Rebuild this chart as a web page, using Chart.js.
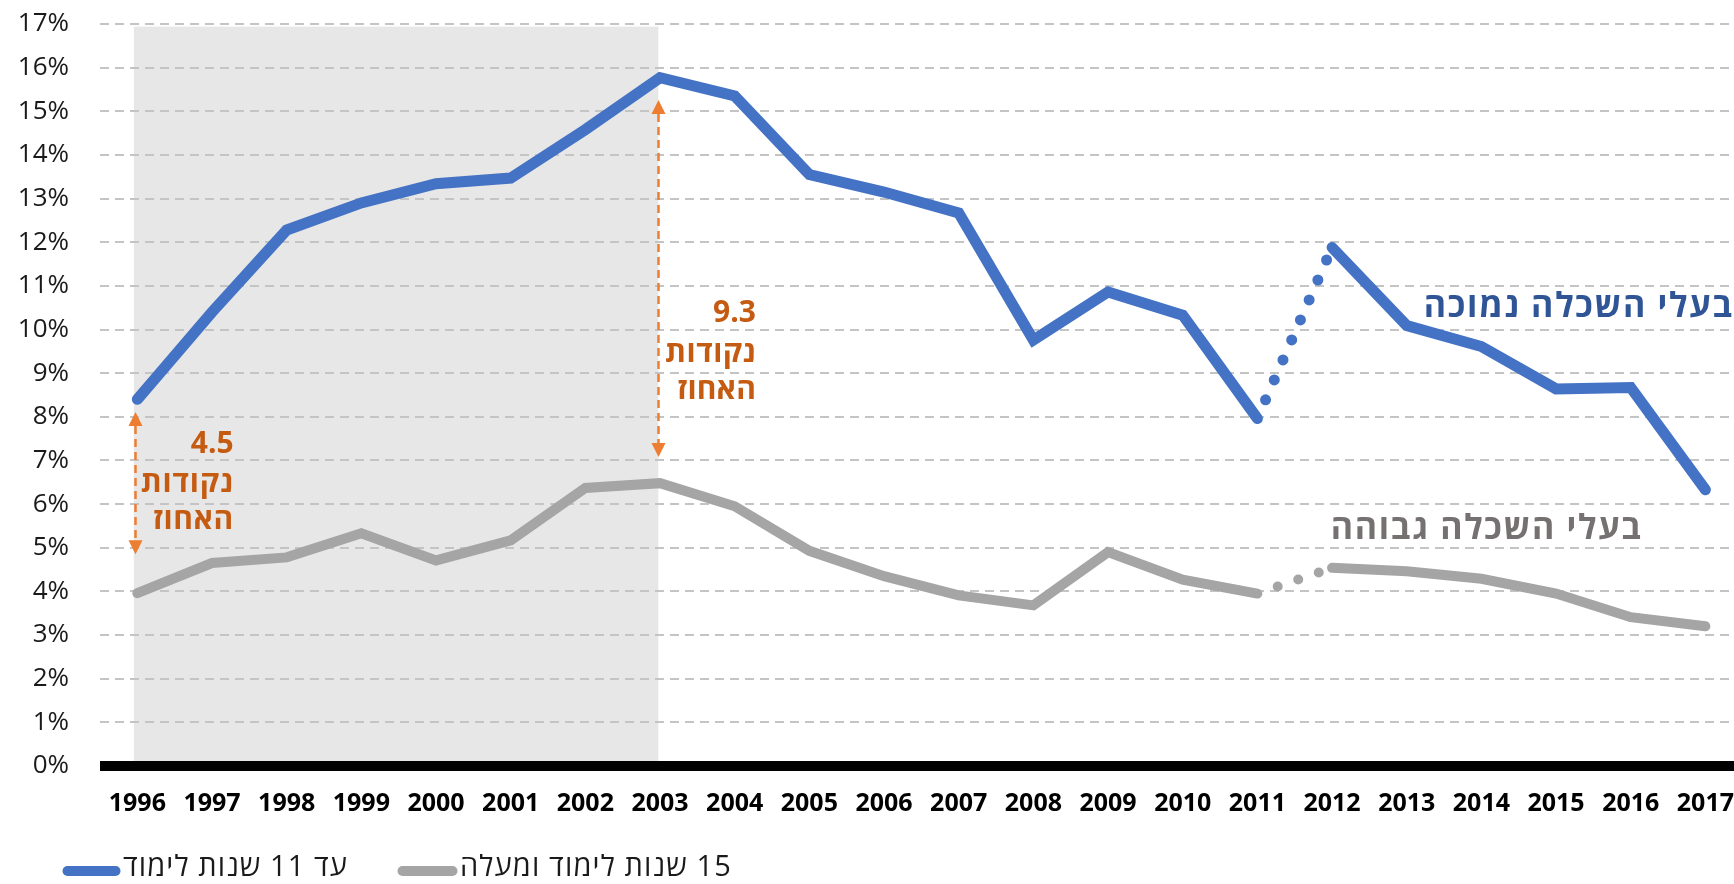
<!DOCTYPE html>
<html lang="he">
<head>
<meta charset="utf-8">
<script src="https://cdn.jsdelivr.net/npm/chart.js@4.4.1/dist/chart.umd.min.js"></script>
<style>html,body{margin:0;padding:0;background:#fff;overflow:hidden}canvas{display:block}</style>
</head>
<body>
<canvas id="c" width="1734" height="884"></canvas>
<script>
// ---- data ----
const years = [1996,1997,1998,1999,2000,2001,2002,2003,2004,2005,2006,2007,2008,2009,2010,2011,2012,2013,2014,2015,2016,2017];
const lowEducation  = [8.40,10.40,12.28,12.90,13.34,13.47,14.58,15.77,15.35,13.55,13.15,12.67,9.76,10.86,10.33,7.96,11.88,10.09,9.61,8.64,8.67,6.33];
const highEducation = [3.96,4.65,4.78,5.33,4.71,5.17,6.37,6.48,5.95,4.93,4.35,3.91,3.68,4.90,4.27,3.95,4.54,4.46,4.29,3.95,3.41,3.20];
const yTickValues = [0,1,2,3,4,5,6,7,8,9,10,11,12,13,14,15,16,17];
const legendNames = ['עד 11 שנות לימוד', '15 שנות לימוד ומעלה'];
const lineNames = ['בעלי השכלה נמוכה', 'בעלי השכלה גבוהה'];
const breakYear = 2011;           // dotted link 2011 -> 2012
const shadedYears = [1996, 2003];
const gapValues = ['4.5', '9.3'];
const gapYears = [1996, 2003];

// ---- annotation placement (layout only) ----
const FONT = "'Open Sans', 'DejaVu Sans', sans-serif";
const BLUE = '#4472C4', GRAY = '#A5A5A5', ORANGE = '#ED7D31', ORANGE_TXT = '#C55A11';
const gapNotes = [
  { xShift: -0.035, top: 8.11, bottom: 4.85, textX: 1997.29, textY: [7.36, 6.48, 5.63], widths: [0, 93, 81] },
  { xShift: -0.023, top: 15.26, bottom: 7.08, textX: 2004.285, textY: [10.37, 9.45, 8.60], widths: [0, 91, 79] }
];
const gapWords = ['נקודות', 'האחוז'];
const breakIdx = years.indexOf(breakYear);

function dotted(dash, offset) {
  return {
    borderDash: c => c.p0DataIndex === breakIdx ? dash : undefined,
    borderDashOffset: c => c.p0DataIndex === breakIdx ? offset : undefined
  };
}

function fitText(ctx, text, x, y, width) {
  ctx.letterSpacing = '0px';
  if (width) {
    const w = ctx.measureText(text).width;
    const ls = Math.max(0, (width - w) / text.length);
    ctx.letterSpacing = ls.toFixed(2) + 'px';
  }
  ctx.fillText(text, x, y);
  ctx.letterSpacing = '0px';
}

const decor = {
  id: 'decor',
  beforeDraw(chart) {
    const { ctx, scales: { x, y } } = chart;
    const x0 = x.getPixelForValue(shadedYears[0] - 0.047);
    const x1 = x.getPixelForValue(shadedYears[1] - 0.023);
    const yt = y.getPixelForValue(16.94), yb = y.getPixelForValue(0);
    ctx.save();
    ctx.fillStyle = '#E7E7E7';
    ctx.fillRect(x0, yt, x1 - x0, yb - yt + 1);
    ctx.restore();
  },
  beforeDatasetsDraw(chart) {
    const { ctx, chartArea: a, scales: { y } } = chart;
    const y0 = y.getPixelForValue(0);
    ctx.save();
    ctx.fillStyle = '#000';
    ctx.fillRect(a.left, y0 - 5, a.right - a.left, 10);
    ctx.restore();
  },
  afterDatasetsDraw(chart) {
    const { ctx, scales: { x, y } } = chart;
    ctx.save();
    gapNotes.forEach((g, i) => {
      const px = Math.round(x.getPixelForValue(gapYears[i] + g.xShift)) + 0.5;
      const yT = y.getPixelForValue(g.top), yB = y.getPixelForValue(g.bottom);
      const head = 14, half = 7;
      ctx.strokeStyle = ORANGE; ctx.lineWidth = 2.5; ctx.setLineDash([8, 5]);
      ctx.beginPath(); ctx.moveTo(px, yT + head); ctx.lineTo(px, yB - head); ctx.stroke();
      ctx.setLineDash([]);
      ctx.fillStyle = ORANGE;
      ctx.beginPath(); ctx.moveTo(px, yT); ctx.lineTo(px - half, yT + head); ctx.lineTo(px + half, yT + head); ctx.closePath(); ctx.fill();
      ctx.beginPath(); ctx.moveTo(px, yB); ctx.lineTo(px - half, yB - head); ctx.lineTo(px + half, yB - head); ctx.closePath(); ctx.fill();
      // text block
      const lines = [gapValues[i]].concat(gapWords);
      const rx = x.getPixelForValue(g.textX);
      ctx.fillStyle = ORANGE_TXT;
      ctx.font = "bold 30px " + FONT;
      ctx.textAlign = 'right'; ctx.textBaseline = 'middle'; ctx.direction = 'rtl';
      lines.forEach((t, k) => fitText(ctx, t, rx, y.getPixelForValue(g.textY[k]), g.widths[k]));
    });
    // series labels
    ctx.font = "bold 34px " + FONT;
    ctx.textAlign = 'right'; ctx.textBaseline = 'middle'; ctx.direction = 'rtl';
    ctx.fillStyle = '#2F5597';
    fitText(ctx, lineNames[0], x.getPixelForValue(2017.38), y.getPixelForValue(10.52), 310);
    ctx.fillStyle = '#767171';
    fitText(ctx, lineNames[1], x.getPixelForValue(2016.16), y.getPixelForValue(5.43), 312);
    ctx.restore();
  },
  afterDraw(chart) {
    const { ctx } = chart;
    const items = [
      { color: BLUE, x0: 67.5, x1: 115.5, tx: 123, w: 225, name: legendNames[0] },
      { color: GRAY, x0: 402.5, x1: 452.5, tx: 460, w: 272, name: legendNames[1] }
    ];
    const ly = 871;
    ctx.save();
    items.forEach(it => {
      ctx.strokeStyle = it.color; ctx.lineWidth = 10; ctx.lineCap = 'round';
      ctx.beginPath(); ctx.moveTo(it.x0, ly); ctx.lineTo(it.x1, ly); ctx.stroke();
      ctx.fillStyle = '#1a1a1a';
      ctx.font = "29px " + FONT;
      ctx.textAlign = 'left'; ctx.textBaseline = 'middle'; ctx.direction = 'rtl';
      fitText(ctx, it.name, it.tx, ly - 3, it.w);
    });
    ctx.restore();
  }
};

Chart.defaults.font.family = FONT;

new Chart(document.getElementById('c'), {
  type: 'line',
  data: {
    datasets: [
      {
        label: legendNames[0],
        data: years.map((yr, i) => ({ x: yr, y: lowEducation[i] })),
        borderColor: BLUE, borderWidth: 11, borderCapStyle: 'round',
        pointRadius: 0, pointHoverRadius: 0, tension: 0, fill: false,
        segment: dotted([0, 21.8], 1.4)
      },
      {
        label: legendNames[1],
        data: years.map((yr, i) => ({ x: yr, y: highEducation[i] })),
        borderColor: GRAY, borderWidth: 10, borderCapStyle: 'round',
        pointRadius: 0, pointHoverRadius: 0, tension: 0, fill: false,
        segment: dotted([0, 21.7], 0.2)
      }
    ]
  },
  options: {
    responsive: false,
    animation: false,
    events: [],
    layout: { padding: { top: 24, bottom: 60, left: 0, right: 0 } },
    plugins: { legend: { display: false }, tooltip: { enabled: false } },
    scales: {
      x: {
        type: 'linear',
        min: years[0] - 0.5,
        max: years[0] - 0.5 + 1634 / 74.67,
        afterBuildTicks: s => { s.ticks = years.map(v => ({ value: v })); },
        afterFit: s => { s.height = 58; s.paddingLeft = 0; s.paddingRight = 0; },
        grid: { display: false, drawTicks: false },
        border: { display: false },
        ticks: {
          autoSkip: false, maxRotation: 0, padding: 23,
          color: '#000', font: { size: 25, weight: 'bold' },
          callback: v => String(v)
        }
      },
      y: {
        min: 0, max: 17,
        afterBuildTicks: s => { s.ticks = yTickValues.map(v => ({ value: v })); },
        afterFit: s => { s.width = 100; s.paddingTop = 0; s.paddingBottom = 0; },
        grid: {
          drawTicks: false, lineWidth: 2,
          color: c => c.tick && c.tick.value === 0 ? 'rgba(0,0,0,0)' : '#C4C4C4'
        },
        border: { display: false, dash: [9, 6] },
        ticks: {
          padding: 31, color: '#1a1a1a', font: { size: 26 },
          callback: v => v + '%'
        }
      }
    }
  },
  plugins: [decor]
});
</script>
</body>
</html>
